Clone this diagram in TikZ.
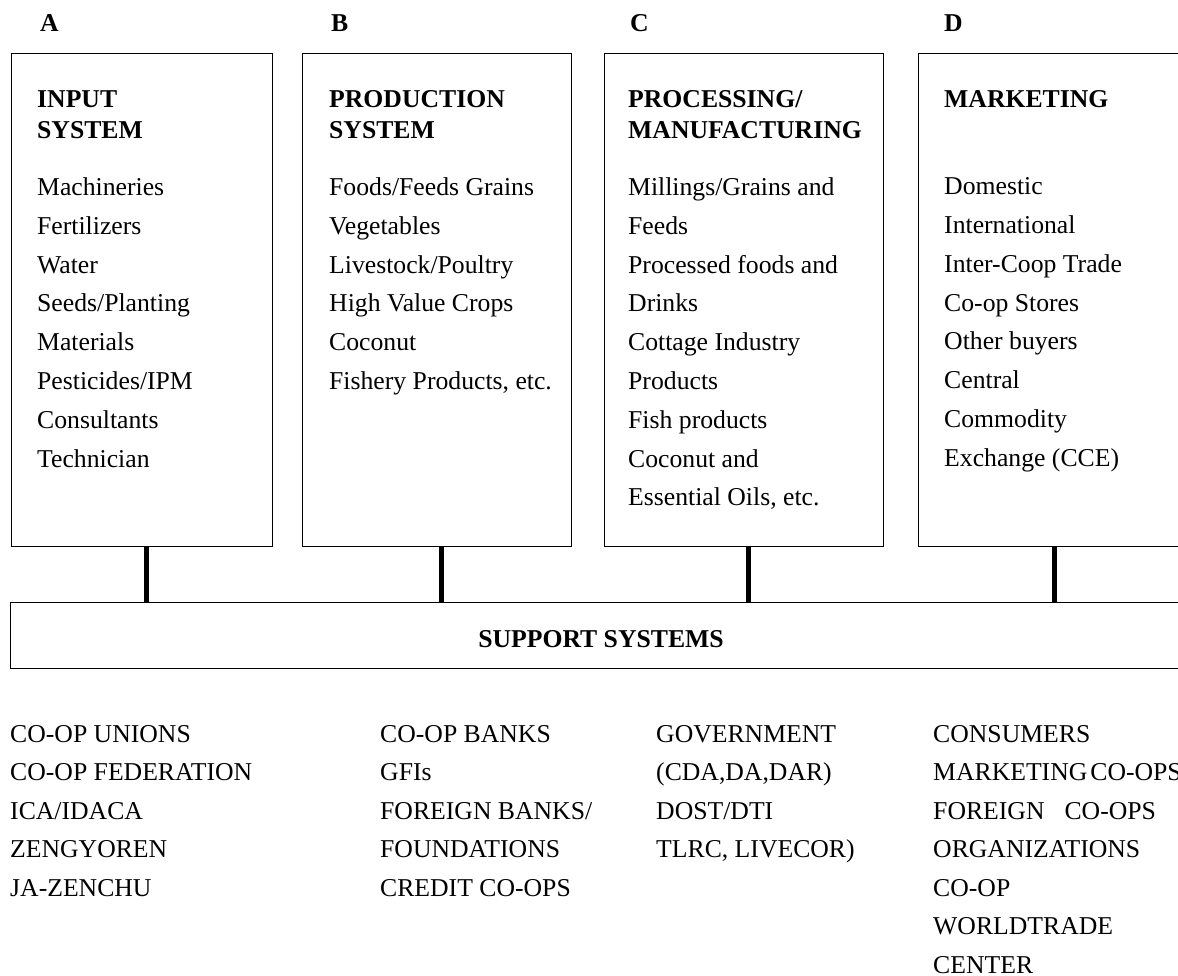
\documentclass[tikz,border=0pt]{standalone}
\usepackage{fontspec}
\setmainfont{Liberation Serif}
\usetikzlibrary{positioning}

\begin{document}
\begin{tikzpicture}[
    x=1pt, y=-1pt,
    txt/.style={inner sep=0pt, anchor=north west, align=left,
      font=\fontsize{25.7}{38.8}\selectfont},
    head/.style={txt, font=\fontsize{25.7}{31}\selectfont\bfseries},
    stage/.style={draw, line width=1.4pt, inner sep=0pt, anchor=north west,
      minimum height=493pt},
    link/.style={line width=5pt},
  ]
  \useasboundingbox (0,0) rectangle (1178,976);
  \clip (0,0) rectangle (1178,976);

  % the four stage boxes
  \node[stage, minimum width=261pt] (inA) at (11,53) {};
  \node[stage, minimum width=269pt] (inB) at (302,53) {};
  \node[stage, minimum width=279pt] (inC) at (604,53) {};
  \node[stage, minimum width=266pt] (inD) at (918,53) {};

  \node[head] (labA) at (40,14.6) {A};
  \node[head] (labB) at (331,14.6) {B};
  \node[head] (labC) at (630,14.6) {C};
  \node[head] (labD) at (944,14.6) {D};

  \node[head] (tA) at (37,90.6) {INPUT\\SYSTEM};
  \node[head] (tB) at (329,90.6) {PRODUCTION\\SYSTEM};
  \node[head] (tC) at (628,90.6) {PROCESSING/\\MANUFACTURING};
  \node[head] (tD) at (944,90.6) {MARKETING};

  \node[txt] (itA) at (37,177.5) {Machineries\\Fertilizers\\Water\\Seeds/Planting\\
    Materials\\Pesticides/IPM\\Consultants\\Technician};
  \node[txt] (itB) at (329,177.5) {Foods/Feeds Grains\\Vegetables\\Livestock/Poultry\\
    High Value Crops\\Coconut\\Fishery Products, etc.};
  \node[txt] (itC) at (628,177.5) {Millings/Grains and\\Feeds\\Processed foods and\\
    Drinks\\Cottage Industry\\Products\\Fish products\\Coconut and\\Essential Oils, etc.};
  \node[txt] (itD) at (944,177.5) {Domestic\\International\\Inter-Coop Trade\\
    Co-op Stores\\Other buyers\\Central\\Commodity\\Exchange (CCE)};

  % support bar and its links
  \node[draw, line width=1.4pt, inner sep=0pt, anchor=north west,
    minimum width=1174pt, minimum height=66pt] (sup) at (10,602) {};
  \node[inner sep=0pt, anchor=base, font=\fontsize{25.7}{31}\selectfont\bfseries]
    (supt) at (601,647) {SUPPORT SYSTEMS};

  \draw[link] ([xshift=4pt]inA.south) -- ([xshift=4pt]inA.south |- sup.north);
  \draw[link] ([xshift=4pt]inB.south) -- ([xshift=4pt]inB.south |- sup.north);
  \draw[link] ([xshift=4pt]inC.south) -- ([xshift=4pt]inC.south |- sup.north);
  \draw[link] ([xshift=3pt]inD.south) -- ([xshift=3pt]inD.south |- sup.north);

  % agencies below the bar
  \tikzset{agency/.style={txt, font=\fontsize{25.7}{38.5}\selectfont}}
  \node[agency] (agA) at (10,724.8) {CO-OP UNIONS\\CO-OP FEDERATION\\ICA/IDACA\\
    ZENGYOREN\\JA-ZENCHU};
  \node[agency] (agB) at (380,724.8) {CO-OP BANKS\\GFIs\\FOREIGN BANKS/\\
    FOUNDATIONS\\CREDIT CO-OPS};
  \node[agency] (agC) at (656,724.8) {GOVERNMENT\\(CDA,DA,DAR)\\DOST/DTI\\
    TLRC, LIVECOR)};
  \node[agency] (agD) at (933,724.8) {CONSUMERS\\MARKETING\hspace{3pt}CO-OPS\\
    FOREIGN\hspace{20pt}CO-OPS\\ORGANIZATIONS\\CO-OP\\WORLDTRADE\\CENTER};
\end{tikzpicture}
\end{document}
